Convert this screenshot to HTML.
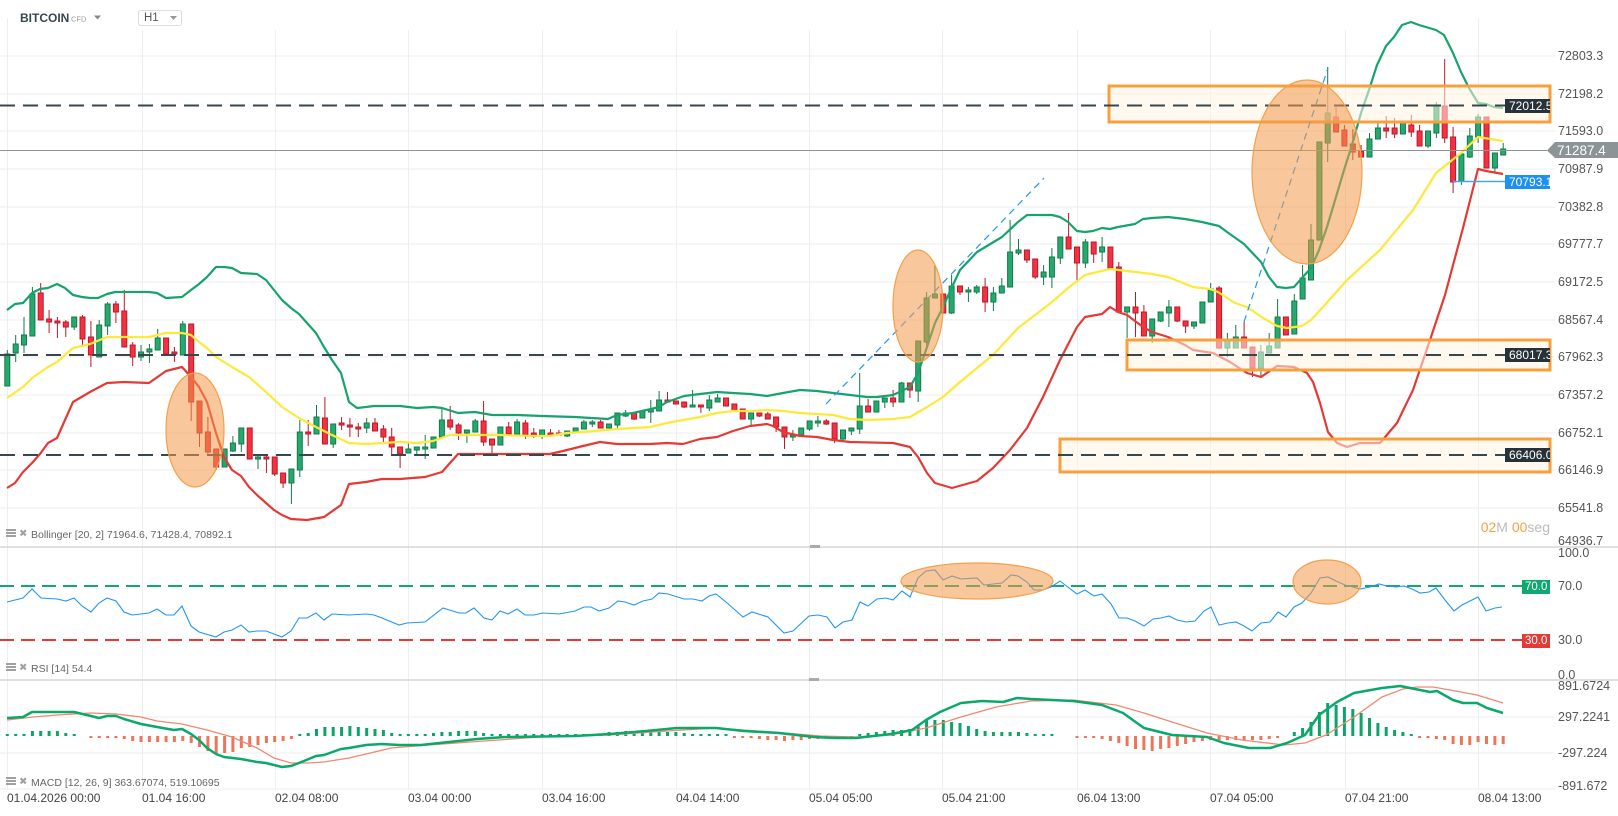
<!DOCTYPE html>
<html><head><meta charset="utf-8"><style>
html,body{margin:0;padding:0;background:#fff;width:1618px;height:816px;overflow:hidden}
svg{display:block;font-family:"Liberation Sans",Arial,sans-serif}
</style></head><body>
<svg width="1618" height="816" viewBox="0 0 1618 816" xmlns="http://www.w3.org/2000/svg">
<rect width="1618" height="816" fill="#fff"/>
<!-- grid -->
<g stroke="#eeeeee" stroke-width="1" fill="none">
<path d="M0 56H1555M0 94H1555M0 131H1555M0 169H1555M0 207H1555M0 244H1555M0 282H1555M0 320H1555M0 357H1555M0 395H1555M0 433H1555M0 470H1555M0 508H1555"/>
<path d="M0 717H1555M0 753H1555M0 789H1555"/>
<path d="M7.5 18V790M142.5 30V790M275.5 30V790M408.5 30V790M542.5 30V790M676.5 30V790M809.5 30V790M942.5 30V790M1077.5 30V790M1210.5 30V790M1345.5 30V790M1478.5 18V790"/>
</g>
<!-- separators -->
<path d="M0 547H1618M0 680H1618" stroke="#d6d6d6" stroke-width="1.5"/>
<rect x="810" y="545" width="10" height="3" fill="#aaa"/>
<rect x="809" y="678" width="10" height="3" fill="#aaa"/>

<!-- candles wicks -->
<path stroke="#137a4a" stroke-width="1" fill="none" d="M7.3 350V386M15.7 335V362M24 317V353M32.4 287V336M74.2 317V330M99.2 320V357M107.6 302V335M141 345V361M149.4 344V363M157.7 329V350M182.8 321V355M232.9 436V452M241.3 428V452M258 454V469M291.4 469V504M299.8 420V477M316.5 405V434M333.2 424V448M366.7 418V433M408.4 442V453M416.8 447V454M425.2 435V459M441.9 408V437M466.9 430V443M475.3 419V432M517.1 419V434M542.1 430V439M567.2 431V437M583.9 420V429M592.3 420V427M617.4 413V428M625.7 410V417M650.8 400V423M659.1 391V411M692.6 390V407M709.3 395V411M717.6 394V402M751.1 413V425M792.9 430V441M809.6 421V431M817.9 416V427M843 430V441M851.4 428V435M859.7 373V434M884.8 398V408M901.5 382V402M918.2 341V402M926.6 292V347M934.9 265V298M951.6 275V314M968.4 287V302M976.7 285V294M993.4 287V311M1001.8 278V293M1010.1 220V287M1018.5 239V255M1043.6 265V285M1051.9 248V288M1060.3 237V264M1085.4 239V268M1102.1 237V262M1127.1 307V338M1152.2 319V343M1160.6 312V322M1168.9 300V327M1194 322V329M1210.7 283V302M1227.4 333V357M1235.8 325V348M1260.9 345V377M1269.2 333V353M1277.6 299V348M1294.3 294V334M1302.6 265V299M1311 224V280M1327.7 67V162M1369.5 133V157M1377.9 123V139M1428 131V148M1436.4 102V138M1461.4 154V185M1469.8 128V158M1478.1 114V143M1494.9 153V173M1503.2 143V155"/>
<path stroke="#b8192b" stroke-width="1" fill="none" d="M40.7 283V320M49.1 310V333M57.4 317V338M65.8 320V337M82.5 315V347M90.9 321V367M115.9 301V323M124.3 290V347M132.7 342V366M166.1 338V356M174.4 347V362M191.2 324V421M199.5 401V447M207.9 417V454M216.2 449V470M266.4 454V473M274.7 457V476M283.1 473V488M308.2 420V446M324.9 397V444M341.6 417V430M349.9 418V437M358.3 423V437M375 418V431M383.4 425V442M391.7 428V456M400.1 447V468M450.2 406V430M458.6 423V440M483.6 401V446M492 439V453M508.7 422V434M525.4 420V439M533.8 428V438M550.5 429V436M558.9 430V435M600.6 420V428M634.1 413V420M667.5 392V402M684.2 402V408M700.9 405V413M759.4 413V417M767.8 412V419M776.1 417V432M784.5 427V449M826.3 419V425M834.6 423V443M868.1 399V412M893.1 390V407M909.9 383V398M960 286V295M985.1 278V312M1026.9 250V263M1035.2 259V279M1068.6 213V249M1077 247V280M1093.7 242V263M1118.8 262V312M1135.5 292V337M1143.9 305V336M1177.3 307V322M1185.6 321V333M1219.1 286V349M1244.1 322V348M1252.5 347V377M1336.1 107V132M1344.4 125V146M1352.8 129V160M1361.1 145V157M1386.2 116V138M1394.6 118V138M1411.3 115V137M1419.6 125V146M1444.7 59V143M1453.1 127V193"/>
<!-- green bodies -->
<path fill="#26a96f" stroke="#137a4a" stroke-width="1" d="M4.8 354h5v32h-5zM13.2 344h5v9h-5zM21.5 335h5v10h-5zM29.9 294h5v42h-5zM71.7 317h5v10h-5zM96.7 325h5v32h-5zM105.1 304h5v22h-5zM138.5 352h5v5h-5zM146.9 349h5v3h-5zM155.2 338h5v12h-5zM180.3 324h5v31h-5zM222.1 449h5v18h-5zM230.4 443h5v8h-5zM238.8 428h5v16h-5zM255.5 457h5v2h-5zM288.9 469h5v14h-5zM297.3 432h5v38h-5zM314 417h5v17h-5zM330.7 424h5v20h-5zM364.2 423h5v5h-5zM405.9 449h5v4h-5zM414.3 447h5v3h-5zM422.7 447h5v2h-5zM431 437h5v11h-5zM439.4 420h5v17h-5zM464.4 430h5v3h-5zM472.8 421h5v11h-5zM497.9 427h5v18h-5zM514.6 422h5v12h-5zM539.6 430h5v6h-5zM564.7 431h5v5h-5zM573.1 428h5v4h-5zM581.4 422h5v7h-5zM589.8 422h5v2h-5zM606.5 424h5v4h-5zM614.9 413h5v12h-5zM623.2 413h5v3h-5zM639.9 411h5v7h-5zM648.3 409h5v3h-5zM656.6 400h5v11h-5zM690.1 405h5v2h-5zM706.8 400h5v8h-5zM715.1 398h5v4h-5zM748.6 413h5v6h-5zM790.4 435h5v2h-5zM798.7 428h5v7h-5zM807.1 421h5v8h-5zM815.4 421h5v2h-5zM840.5 430h5v9h-5zM848.9 428h5v3h-5zM857.2 406h5v23h-5zM873.9 401h5v11h-5zM882.3 398h5v4h-5zM899 383h5v19h-5zM915.7 341h5v50h-5zM924.1 298h5v44h-5zM932.4 294h5v4h-5zM949.1 286h5v27h-5zM965.9 290h5v2h-5zM974.2 287h5v5h-5zM990.9 293h5v9h-5zM999.3 286h5v7h-5zM1007.6 252h5v35h-5zM1016 250h5v3h-5zM1041.1 272h5v5h-5zM1049.4 257h5v20h-5zM1057.8 237h5v21h-5zM1082.9 242h5v21h-5zM1099.6 247h5v5h-5zM1124.6 307h5v5h-5zM1149.7 319h5v17h-5zM1158.1 312h5v9h-5zM1166.4 307h5v6h-5zM1191.5 322h5v4h-5zM1199.9 302h5v21h-5zM1208.2 289h5v13h-5zM1224.9 341h5v7h-5zM1233.3 337h5v11h-5zM1258.4 352h5v16h-5zM1266.7 346h5v7h-5zM1275.1 317h5v31h-5zM1291.8 301h5v33h-5zM1300.1 278h5v21h-5zM1308.5 240h5v40h-5zM1316.9 142h5v98h-5zM1325.2 113h5v30h-5zM1367 139h5v18h-5zM1375.4 128h5v11h-5zM1400.4 123h5v11h-5zM1425.5 131h5v15h-5zM1433.9 106h5v27h-5zM1458.9 154h5v27h-5zM1467.3 136h5v21h-5zM1475.6 117h5v20h-5zM1492.4 153h5v15h-5zM1500.7 149h5v6h-5z"/>
<!-- red bodies -->
<path fill="#f5303f" stroke="#b8192b" stroke-width="1" d="M38.2 293h5v27h-5zM46.6 319h5v3h-5zM54.9 321h5v2h-5zM63.3 322h5v5h-5zM80 317h5v22h-5zM88.4 337h5v18h-5zM113.4 304h5v8h-5zM121.8 311h5v36h-5zM130.2 345h5v12h-5zM163.6 338h5v16h-5zM171.9 352h5v2h-5zM188.7 324h5v78h-5zM197 401h5v32h-5zM205.4 432h5v20h-5zM213.7 449h5v18h-5zM247.2 428h5v31h-5zM263.9 457h5v2h-5zM272.2 457h5v17h-5zM280.6 473h5v10h-5zM305.7 432h5v2h-5zM322.4 418h5v26h-5zM339.1 423h5v2h-5zM347.4 425h5v2h-5zM355.8 427h5v2h-5zM372.5 423h5v8h-5zM380.9 429h5v8h-5zM389.2 437h5v10h-5zM397.6 447h5v7h-5zM447.7 420h5v7h-5zM456.1 425h5v8h-5zM481.1 421h5v21h-5zM489.5 439h5v6h-5zM506.2 427h5v7h-5zM522.9 423h5v12h-5zM531.3 433h5v3h-5zM548 433h5v3h-5zM556.4 433h5v2h-5zM598.1 422h5v6h-5zM631.6 413h5v6h-5zM665 400h5v2h-5zM673.4 401h5v3h-5zM681.7 402h5v5h-5zM698.4 405h5v2h-5zM723.5 398h5v8h-5zM731.9 404h5v7h-5zM740.2 409h5v10h-5zM756.9 413h5v3h-5zM765.3 414h5v5h-5zM773.6 417h5v10h-5zM782 427h5v10h-5zM823.8 421h5v3h-5zM832.1 423h5v16h-5zM865.6 406h5v6h-5zM890.6 398h5v4h-5zM907.4 383h5v7h-5zM940.8 294h5v19h-5zM957.5 286h5v6h-5zM982.6 287h5v15h-5zM1024.4 250h5v10h-5zM1032.7 259h5v18h-5zM1066.1 237h5v12h-5zM1074.5 247h5v16h-5zM1091.2 242h5v12h-5zM1107.9 247h5v21h-5zM1116.3 267h5v45h-5zM1133 307h5v6h-5zM1141.4 312h5v24h-5zM1174.8 307h5v14h-5zM1183.1 321h5v5h-5zM1216.6 288h5v60h-5zM1241.6 337h5v11h-5zM1250 347h5v21h-5zM1283.4 317h5v18h-5zM1333.6 117h5v15h-5zM1341.9 130h5v16h-5zM1350.3 144h5v8h-5zM1358.6 151h5v6h-5zM1383.7 128h5v3h-5zM1392.1 128h5v6h-5zM1408.8 125h5v7h-5zM1417.1 131h5v15h-5zM1442.2 106h5v32h-5zM1450.6 137h5v45h-5zM1484 117h5v51h-5z"/>

<!-- Bollinger bands -->
<g fill="none" stroke-width="2.2" stroke-linejoin="round">
<polyline stroke="#16a36e" points="7,310 15,304 23,303 32,293 40,289 48,288 57,284 65,288 73,295 82,297 90,298 98,298 107,294 115,292 124,292 149,292 157,293 166,298 182,297 191,290 199,284 207,277 216,267 224,267 232,268 241,273 257,274 266,280 274,290 282,300 291,308 299,314 307,323 316,333 324,347 332,360 341,373 349,402 357,408 366,407 374,406 400,406 417,408 433,407 442,408 458,413 475,412 492,415 517,415 542,416 575,417 608,419 617,415 633,413 642,411 651,409 659,407 667,402 684,396 700,394 717,392 733,393 750,394 767,396 783,393 800,390 817,391 833,393 850,395 867,397 877,397 893,395 910,387 918,373 927,347 935,323 943,307 952,287 960,270 977,252 1002,237 1018,222 1027,215 1052,215 1060,217 1068,222 1077,231 1085,232 1093,231 1102,228 1110,229 1118,227 1135,224 1143,219 1152,218 1168,217 1185,219 1202,222 1219,226 1227,232 1244,244 1261,262 1269,277 1277,287 1286,288 1294,287 1302,278 1311,268 1319,250 1327,227 1336,197 1344,170 1352,145 1361,113 1369,90 1377,65 1386,46 1394,37 1402,25 1411,22 1419,25 1436,30 1444,35 1453,53 1461,72 1469,88 1478,103 1486,104 1494,107 1503,108"/>
<polyline stroke="#fde93a" points="7,398 23,387 32,378 48,367 57,362 73,348 90,344 107,337 115,337 149,337 166,333 182,333 191,335 199,342 207,348 216,357 232,367 249,377 266,392 282,407 299,418 316,427 332,435 349,443 366,444 382,443 400,442 417,443 433,441 450,435 467,435 500,435 533,436 550,436 567,433 583,432 617,429 650,427 667,423 683,420 700,417 717,413 733,411 750,411 767,410 783,411 800,413 833,415 850,419 867,420 893,419 910,417 927,407 943,397 960,382 977,368 993,355 1018,328 1052,302 1068,288 1085,275 1110,269 1127,271 1152,274 1168,277 1193,287 1210,289 1218,292 1235,303 1247,307 1263,318 1277,326 1287,328 1302,326 1311,320 1323,307 1347,280 1380,250 1413,210 1436,173 1461,153 1478,137 1503,141"/>
<polyline stroke="#e53935" points="7,488 15,483 23,472 32,463 40,454 48,443 57,438 65,420 73,402 90,392 107,383 124,382 149,383 166,371 182,367 191,377 199,387 207,402 216,433 224,457 232,470 241,476 249,487 257,495 266,503 274,510 282,515 291,519 307,520 324,517 341,505 349,484 366,482 382,479 400,479 425,477 442,472 458,454 550,454 567,450 583,446 600,442 617,444 650,444 667,443 683,444 700,439 717,437 733,431 750,426 767,424 773,426 783,432 800,436 817,437 833,440 850,442 893,443 910,447 918,457 927,473 935,483 952,488 977,481 993,468 1010,450 1027,428 1043,397 1060,360 1077,327 1085,317 1102,314 1110,307 1118,312 1127,315 1143,327 1152,332 1168,337 1185,345 1193,350 1213,353 1230,362 1247,373 1261,377 1277,366 1294,367 1307,373 1313,382 1320,403 1328,432 1337,443 1347,447 1360,443 1380,443 1397,423 1413,390 1430,340 1445,295 1463,228 1478,169 1486,171 1503,174"/>
</g>

<!-- boxes -->
<g fill="rgba(255,244,228,0.55)" stroke="#f7a03c" stroke-width="3">
<rect x="1109" y="86" width="441" height="36"/>
<rect x="1127" y="340" width="423" height="30"/>
<rect x="1060" y="439" width="490" height="33"/>
</g>

<!-- dashed horizontal levels -->
<g stroke="#37474f" stroke-width="2" stroke-dasharray="15 8" fill="none">
<path d="M0 105.5H1505M0 355H1505M0 455H1505"/>
</g>
<!-- current price line -->
<path d="M0 150.5H1547" stroke="#8c9497" stroke-width="1"/>
<path d="M1453 181.5H1505" stroke="#42a5f5" stroke-width="1.5"/>

<!-- trend lines -->
<g stroke="#2196f3" stroke-width="1.2" stroke-dasharray="7 5" fill="none">
<path d="M826 404L1044 178"/>
<path d="M1244 322L1328 68"/>
</g>

<!-- ellipses -->
<g fill="rgba(242,153,74,0.55)" stroke="#f5a04a" stroke-width="1.2">
<ellipse cx="195" cy="430" rx="29" ry="57"/>
<ellipse cx="918" cy="306" rx="25" ry="56"/>
<ellipse cx="1307" cy="172" rx="55" ry="92"/>
</g>

<!-- RSI panel -->
<path d="M0 586H1522" stroke="#12a870" stroke-width="2" stroke-dasharray="14 7"/>
<path d="M0 640H1522" stroke="#e53935" stroke-width="2" stroke-dasharray="14 7"/>
<polyline fill="none" stroke="#2196f3" stroke-width="1.1" points="7,602 23,598 32,589 41,598 57,599 66,601 74,598 82,606 91,612 99,603 107,598 116,601 124,612 132,615 149,613 157,609 166,615 174,615 182,606 191,626 199,632 216,637 224,632 232,630 241,625 249,632 257,631 266,631 282,637 291,631 299,618 307,618 316,613 324,620 332,614 349,615 366,614 374,615 382,618 399,625 407,623 425,622 443,608 459,613 466,613 474,608 484,618 492,620 500,611 508,614 517,609 525,615 534,615 543,613 559,614 575,611 584,607 591,607 599,611 609,608 618,601 625,602 634,605 643,601 652,599 659,593 668,594 684,599 693,599 702,601 709,596 716,594 726,602 743,617 752,612 768,617 784,633 793,631 809,616 818,615 827,617 835,628 843,622 852,620 860,602 868,606 877,599 886,598 893,600 902,591 910,597 918,578 926,571 935,570 943,580 952,576 961,579 977,578 984,585 993,584 1002,583 1011,575 1018,576 1027,582 1034,590 1043,590 1051,587 1060,581 1069,588 1077,594 1085,590 1094,596 1102,594 1111,604 1119,618 1127,618 1135,621 1144,626 1153,619 1161,618 1169,616 1177,620 1186,622 1195,621 1204,611 1211,607 1219,625 1228,623 1236,622 1244,626 1252,631 1261,623 1270,622 1278,612 1286,617 1294,607 1302,603 1311,593 1320,578 1328,577 1336,581 1345,585 1353,587 1360,589 1370,587 1379,584 1387,586 1396,587 1404,586 1412,589 1420,593 1429,592 1436,588 1445,600 1454,611 1462,605 1478,597 1486,611 1495,608 1502,607"/>
<g fill="rgba(242,153,74,0.55)" stroke="#f5a04a" stroke-width="1.2">
<ellipse cx="977" cy="581" rx="76" ry="18"/>
<ellipse cx="1327" cy="582" rx="34" ry="22"/>
</g>

<!-- MACD histogram -->
<path fill="#0ba56a" d="M5.8 734h3v2h-3zM14.2 734h3v2h-3zM22.5 734h3v2h-3zM30.9 731h3v5h-3zM39.2 731h3v5h-3zM47.6 731h3v5h-3zM55.9 731h3v5h-3zM64.3 733h3v3h-3zM72.7 734h3v2h-3zM298.3 734h3v2h-3zM306.7 733h3v3h-3zM315 729h3v7h-3zM323.4 727h3v9h-3zM331.7 727h3v9h-3zM340.1 727h3v9h-3zM348.4 726h3v10h-3zM356.8 727h3v9h-3zM365.2 728h3v8h-3zM373.5 729h3v7h-3zM381.9 730h3v6h-3zM390.2 733h3v3h-3zM398.6 734h3v2h-3zM406.9 734h3v2h-3zM415.3 734h3v2h-3zM423.7 734h3v2h-3zM432 733h3v3h-3zM440.4 732h3v4h-3zM448.7 732h3v4h-3zM457.1 731h3v5h-3zM465.4 731h3v5h-3zM473.8 731h3v5h-3zM482.1 733h3v3h-3zM490.5 734h3v2h-3zM498.9 734h3v2h-3zM507.2 734h3v2h-3zM515.6 734h3v2h-3zM523.9 734h3v2h-3zM532.3 734h3v2h-3zM540.6 734h3v2h-3zM549 734h3v2h-3zM557.4 734h3v2h-3zM565.7 734h3v2h-3zM574.1 734h3v2h-3zM582.4 734h3v2h-3zM590.8 734h3v2h-3zM599.1 734h3v2h-3zM607.5 732h3v4h-3zM615.9 732h3v4h-3zM624.2 731h3v5h-3zM632.6 731h3v5h-3zM640.9 731h3v5h-3zM649.3 731h3v5h-3zM657.6 731h3v5h-3zM666 732h3v4h-3zM674.4 732h3v4h-3zM682.7 733h3v3h-3zM691.1 734h3v2h-3zM699.4 734h3v2h-3zM707.8 734h3v2h-3zM716.1 734h3v2h-3zM724.5 734h3v2h-3zM858.2 734h3v2h-3zM866.6 733h3v3h-3zM874.9 732h3v4h-3zM883.3 731h3v5h-3zM891.6 730h3v6h-3zM900 730h3v6h-3zM908.4 729h3v7h-3zM916.7 726h3v10h-3zM925.1 720h3v16h-3zM933.4 720h3v16h-3zM941.8 720h3v16h-3zM950.1 722h3v14h-3zM958.5 723h3v13h-3zM966.9 726h3v10h-3zM975.2 729h3v7h-3zM983.6 731h3v5h-3zM991.9 732h3v4h-3zM1000.3 732h3v4h-3zM1008.6 732h3v4h-3zM1017 732h3v4h-3zM1025.4 733h3v3h-3zM1033.7 734h3v2h-3zM1042.1 734h3v2h-3zM1050.4 734h3v2h-3zM1292.8 732h3v4h-3zM1301.1 728h3v8h-3zM1309.5 722h3v14h-3zM1317.9 712h3v24h-3zM1326.2 703h3v33h-3zM1334.6 705h3v31h-3zM1342.9 707h3v29h-3zM1351.3 709h3v27h-3zM1359.6 713h3v23h-3zM1368 718h3v18h-3zM1376.4 723h3v13h-3zM1384.7 727h3v9h-3zM1393.1 730h3v6h-3zM1401.4 732h3v4h-3zM1409.8 734h3v2h-3z"/>
<path fill="#ee7557" d="M89.4 736h3v2h-3zM97.7 736h3v2h-3zM106.1 736h3v2h-3zM114.4 736h3v2h-3zM122.8 736h3v3h-3zM131.2 736h3v5h-3zM139.5 736h3v6h-3zM147.9 736h3v6h-3zM156.2 736h3v6h-3zM164.6 736h3v6h-3zM172.9 736h3v6h-3zM181.3 736h3v5h-3zM189.7 736h3v7h-3zM198 736h3v11h-3zM206.4 736h3v15h-3zM214.7 736h3v18h-3zM223.1 736h3v17h-3zM231.4 736h3v16h-3zM239.8 736h3v12h-3zM248.2 736h3v11h-3zM256.5 736h3v9h-3zM264.9 736h3v7h-3zM273.2 736h3v6h-3zM281.6 736h3v5h-3zM289.9 736h3v3h-3zM732.9 736h3v2h-3zM741.2 736h3v2h-3zM749.6 736h3v2h-3zM757.9 736h3v3h-3zM766.3 736h3v4h-3zM774.6 736h3v4h-3zM783 736h3v5h-3zM791.4 736h3v4h-3zM799.7 736h3v4h-3zM808.1 736h3v3h-3zM816.4 736h3v3h-3zM824.8 736h3v2h-3zM833.1 736h3v2h-3zM841.5 736h3v2h-3zM849.9 736h3v2h-3zM1075.5 736h3v2h-3zM1083.9 736h3v2h-3zM1092.2 736h3v2h-3zM1100.6 736h3v3h-3zM1108.9 736h3v5h-3zM1117.3 736h3v7h-3zM1125.6 736h3v10h-3zM1134 736h3v13h-3zM1142.4 736h3v14h-3zM1150.7 736h3v15h-3zM1159.1 736h3v13h-3zM1167.4 736h3v12h-3zM1175.8 736h3v10h-3zM1184.1 736h3v8h-3zM1192.5 736h3v6h-3zM1200.9 736h3v5h-3zM1209.2 736h3v4h-3zM1217.6 736h3v4h-3zM1225.9 736h3v4h-3zM1234.3 736h3v4h-3zM1242.6 736h3v4h-3zM1251 736h3v4h-3zM1259.4 736h3v4h-3zM1267.7 736h3v3h-3zM1276.1 736h3v2h-3zM1418.1 736h3v2h-3zM1426.5 736h3v2h-3zM1434.9 736h3v3h-3zM1443.2 736h3v4h-3zM1451.6 736h3v8h-3zM1459.9 736h3v9h-3zM1468.3 736h3v9h-3zM1476.6 736h3v6h-3zM1485 736h3v8h-3zM1493.4 736h3v9h-3zM1501.7 736h3v8h-3z"/>
<!-- MACD lines -->
<polyline fill="none" stroke="#f08970" stroke-width="1.3" points="7,720 33,717 57,715 91,713 116,714 141,717 157,721 182,724 207,730 232,737 257,748 274,758 291,763 307,763 324,762 349,758 366,754 391,748 416,746 470,742 540,737 610,735 667,731 716,728 772,732 821,736 856,737 891,735 926,728 961,717 996,707 1031,701 1073,700 1116,705 1144,713 1172,722 1207,733 1242,740 1284,745 1305,743 1326,735 1354,717 1382,697 1403,689 1417,687 1433,687 1450,690 1477,695 1503,703"/>
<polyline fill="none" stroke="#0aa86b" stroke-width="2.5" stroke-linejoin="round" points="7,718 23,717 32,712 48,712 74,712 91,716 99,718 107,716 116,716 124,719 141,724 157,727 174,730 182,729 191,734 199,740 207,748 216,754 224,757 241,759 257,762 266,763 282,767 291,766 299,763 316,756 324,755 341,749 349,748 366,745 382,744 399,745 421,745 449,742 477,739 505,737 575,736 610,734 646,731 677,728 716,728 744,731 779,733 814,737 835,738 856,738 891,734 912,730 926,720 940,712 961,703 982,701 1003,702 1017,698 1031,699 1073,701 1102,705 1123,713 1144,728 1172,735 1207,737 1224,743 1249,748 1270,748 1287,743 1305,735 1319,715 1337,702 1354,693 1382,688 1400,686 1420,690 1430,692 1437,691 1453,700 1463,703 1477,703 1487,708 1503,713"/>

<!-- right axis labels -->
<g font-size="12.5" fill="#555" dominant-baseline="central">
<text x="1558" y="56">72803.3</text>
<text x="1558" y="94">72198.2</text>
<text x="1558" y="131">71593.0</text>
<text x="1558" y="169">70987.9</text>
<text x="1558" y="207">70382.8</text>
<text x="1558" y="244">69777.7</text>
<text x="1558" y="282">69172.5</text>
<text x="1558" y="320">68567.4</text>
<text x="1558" y="357">67962.3</text>
<text x="1558" y="395">67357.2</text>
<text x="1558" y="433">66752.1</text>
<text x="1558" y="470">66146.9</text>
<text x="1558" y="508">65541.8</text>
<text x="1558" y="541">64936.7</text>
<text x="1558" y="553">100.0</text>
<text x="1558" y="586">70.0</text>
<text x="1558" y="640">30.0</text>
<text x="1558" y="675">0.0</text>
<text x="1558" y="686">891.6724</text>
<text x="1558" y="717">297.2241</text>
<text x="1558" y="753">-297.224</text>
<text x="1558" y="786">-891.672</text>
</g>

<!-- price tags -->
<svg x="1505" y="0" width="45" height="816" overflow="hidden">
<rect x="0" y="99" width="45" height="14" fill="#263238"/>
<rect x="0" y="348" width="45" height="14" fill="#263238"/>
<rect x="0" y="448" width="45" height="14" fill="#263238"/>
<rect x="0" y="175" width="45" height="14" fill="#1e90f0"/>
<g font-size="12" fill="#fff" dominant-baseline="central">
<text x="4" y="106">72012.5</text>
<text x="4" y="355">68017.3</text>
<text x="4" y="455">66406.0</text>
<text x="4" y="182">70793.1</text>
</g>
</svg>
<path d="M1547 150.5L1555 142H1618V158H1555Z" fill="#8c9497"/>
<text x="1557" y="150.5" font-size="13.5" fill="#fff" dominant-baseline="central">71287.4</text>
<rect x="1522" y="580" width="28" height="14" fill="#10a773"/>
<rect x="1522" y="634" width="28" height="14" fill="#e53935"/>
<g font-size="11.5" fill="#fff" dominant-baseline="central">
<text x="1525" y="587">70.0</text>
<text x="1525" y="641">30.0</text>
</g>

<!-- countdown -->
<text x="1550" y="527" font-size="14" text-anchor="end" dominant-baseline="central"><tspan fill="#f7a03c">02</tspan><tspan fill="#bbb">M </tspan><tspan fill="#f7a03c">00</tspan><tspan fill="#bbb">seg</tspan></text>

<!-- legends -->
<g fill="#a0a0a0">
<rect x="6" y="529" width="10" height="2"/><rect x="6" y="532" width="10" height="2"/><rect x="6" y="535" width="10" height="2"/>
<rect x="6" y="663" width="10" height="2"/><rect x="6" y="666" width="10" height="2"/><rect x="6" y="669" width="10" height="2"/>
<rect x="6" y="777" width="10" height="2"/><rect x="6" y="780" width="10" height="2"/><rect x="6" y="783" width="10" height="2"/>
</g>
<g font-size="10" fill="#a0a0a0" dominant-baseline="central">
<text x="19" y="534">✖</text>
<text x="19" y="668">✖</text>
<text x="19" y="782">✖</text>
</g>
<g font-size="10.5" fill="#666" dominant-baseline="central">
<text x="31" y="535">Bollinger [20, 2] 71964.6, 71428.4, 70892.1</text>
<text x="31" y="669">RSI [14] 54.4</text>
<text x="31" y="783">MACD [12, 26, 9] 363.67074, 519.10695</text>
</g>

<!-- date axis -->
<g font-size="12" fill="#444" dominant-baseline="central">
<text x="7" y="798">01.04.2026 00:00</text>
<text x="142" y="798">01.04 16:00</text>
<text x="275" y="798">02.04 08:00</text>
<text x="408" y="798">03.04 00:00</text>
<text x="542" y="798">03.04 16:00</text>
<text x="676" y="798">04.04 14:00</text>
<text x="809" y="798">05.04 05:00</text>
<text x="942" y="798">05.04 21:00</text>
<text x="1077" y="798">06.04 13:00</text>
<text x="1210" y="798">07.04 05:00</text>
<text x="1345" y="798">07.04 21:00</text>
<text x="1478" y="798">08.04 13:00</text>
</g>

<!-- header -->
<text x="20" y="18" font-size="12" font-weight="bold" fill="#37474f" dominant-baseline="central">BITCOIN</text>
<text x="71" y="19" font-size="7.5" fill="#999" dominant-baseline="central">CFD</text>
<path d="M94 15.5h7l-3.5 4z" fill="#888"/>
<rect x="138.5" y="10.5" width="43" height="15" rx="2" fill="#fff" stroke="#ddd"/>
<text x="144" y="18" font-size="11.5" fill="#555" dominant-baseline="central">H1</text>
<path d="M170 16h7l-3.5 4z" fill="#999"/>
</svg>
</body></html>
